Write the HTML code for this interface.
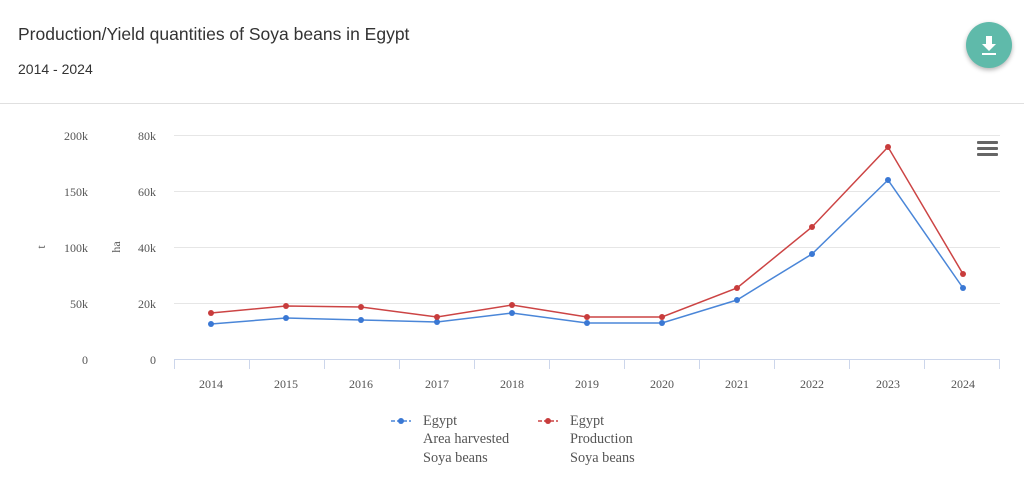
<!DOCTYPE html>
<html><head><style>
body{margin:0;width:1024px;height:479px;background:#fff;overflow:hidden;font-family:"Liberation Sans",sans-serif;}
.t{position:absolute;left:18px;top:24px;font-size:17.5px;color:#333;letter-spacing:0px}
.s{position:absolute;left:18px;top:61px;font-size:14px;color:#333}
.hr{position:absolute;left:0;top:103px;width:1024px;height:1px;background:#e0e0e0}
.btn{position:absolute;left:966px;top:22px;width:46px;height:46px;border-radius:50%;background:#5fbaaa;box-shadow:0 2px 5px rgba(0,0,0,.3)}
</style></head><body>
<div class="t">Production/Yield quantities of Soya beans in Egypt</div>
<div class="s">2014 - 2024</div>
<div class="hr"></div>
<div class="btn"><svg width="46" height="46"><path d="M20 14h6v8h4l-7 7-7-7h4z" fill="#fff"/><rect x="16" y="31" width="14" height="2" fill="#fff"/></svg></div>
<svg width="1024" height="479" style="position:absolute;left:0;top:0" font-family="Liberation Serif,serif" font-size="12" fill="#555">
<g stroke="#e6e6e6" stroke-width="1">
<line x1="174" x2="1000" y1="135.5" y2="135.5"/><line x1="174" x2="1000" y1="191.5" y2="191.5"/><line x1="174" x2="1000" y1="247.5" y2="247.5"/><line x1="174" x2="1000" y1="303.5" y2="303.5"/>
</g>
<line x1="174" x2="1000" y1="359.5" y2="359.5" stroke="#ccd6eb"/>
<g stroke="#ccd6eb"><line x1="174.5" x2="174.5" y1="360" y2="369"/><line x1="249.5" x2="249.5" y1="360" y2="369"/><line x1="324.5" x2="324.5" y1="360" y2="369"/><line x1="399.5" x2="399.5" y1="360" y2="369"/><line x1="474.5" x2="474.5" y1="360" y2="369"/><line x1="549.5" x2="549.5" y1="360" y2="369"/><line x1="624.5" x2="624.5" y1="360" y2="369"/><line x1="699.5" x2="699.5" y1="360" y2="369"/><line x1="774.5" x2="774.5" y1="360" y2="369"/><line x1="849.5" x2="849.5" y1="360" y2="369"/><line x1="924.5" x2="924.5" y1="360" y2="369"/><line x1="999.5" x2="999.5" y1="360" y2="369"/></g>
<g text-anchor="end"><text x="88" y="140">200k</text><text x="88" y="196">150k</text><text x="88" y="252">100k</text><text x="88" y="308">50k</text><text x="88" y="364">0</text>
<text x="156" y="140">80k</text><text x="156" y="196">60k</text><text x="156" y="252">40k</text><text x="156" y="308">20k</text><text x="156" y="364">0</text></g>
<text transform="translate(45,247) rotate(-90)" text-anchor="middle">t</text>
<text transform="translate(120,247) rotate(-90)" text-anchor="middle">ha</text>
<g text-anchor="middle"><text x="211" y="388">2014</text><text x="286" y="388">2015</text><text x="361" y="388">2016</text><text x="437" y="388">2017</text><text x="512" y="388">2018</text><text x="587" y="388">2019</text><text x="662" y="388">2020</text><text x="737" y="388">2021</text><text x="812" y="388">2022</text><text x="888" y="388">2023</text><text x="963" y="388">2024</text></g>
<polyline fill="none" stroke="#4a86d8" stroke-width="1.5" points="211,324 286,318 361,320 437,322 512,313 587,323 662,323 737,300 812,254 888,180 963,288"/>
<polyline fill="none" stroke="#cc4444" stroke-width="1.5" points="211,313 286,306 361,307 437,317 512,305 587,317 662,317 737,288 812,227 888,147 963,274"/>
<g fill="#3a78d4"><circle cx="211" cy="324" r="3"/><circle cx="286" cy="318" r="3"/><circle cx="361" cy="320" r="3"/><circle cx="437" cy="322" r="3"/><circle cx="512" cy="313" r="3"/><circle cx="587" cy="323" r="3"/><circle cx="662" cy="323" r="3"/><circle cx="737" cy="300" r="3"/><circle cx="812" cy="254" r="3"/><circle cx="888" cy="180" r="3"/><circle cx="963" cy="288" r="3"/></g>
<g fill="#c83c3c"><circle cx="211" cy="313" r="3"/><circle cx="286" cy="306" r="3"/><circle cx="361" cy="307" r="3"/><circle cx="437" cy="317" r="3"/><circle cx="512" cy="305" r="3"/><circle cx="587" cy="317" r="3"/><circle cx="662" cy="317" r="3"/><circle cx="737" cy="288" r="3"/><circle cx="812" cy="227" r="3"/><circle cx="888" cy="147" r="3"/><circle cx="963" cy="274" r="3"/></g>
<g fill="#666"><rect x="977" y="141" width="21" height="3" rx="1"/><rect x="977" y="147" width="21" height="3" rx="1"/><rect x="977" y="153" width="21" height="3" rx="1"/></g>
<line x1="391" x2="411" y1="421" y2="421" stroke="#4a86d8" stroke-width="1.5" stroke-dasharray="4,2"/><circle cx="401" cy="421" r="3" fill="#3a78d4"/>
<line x1="538" x2="558" y1="421" y2="421" stroke="#cc4444" stroke-width="1.5" stroke-dasharray="4,2"/><circle cx="548" cy="421" r="3" fill="#c83c3c"/>
<g font-size="14.3" fill="#555"><text x="423" y="425">Egypt</text><text x="423" y="443">Area harvested</text><text x="423" y="462">Soya beans</text>
<text x="570" y="425">Egypt</text><text x="570" y="443">Production</text><text x="570" y="462">Soya beans</text></g>
</svg>
</body></html>
